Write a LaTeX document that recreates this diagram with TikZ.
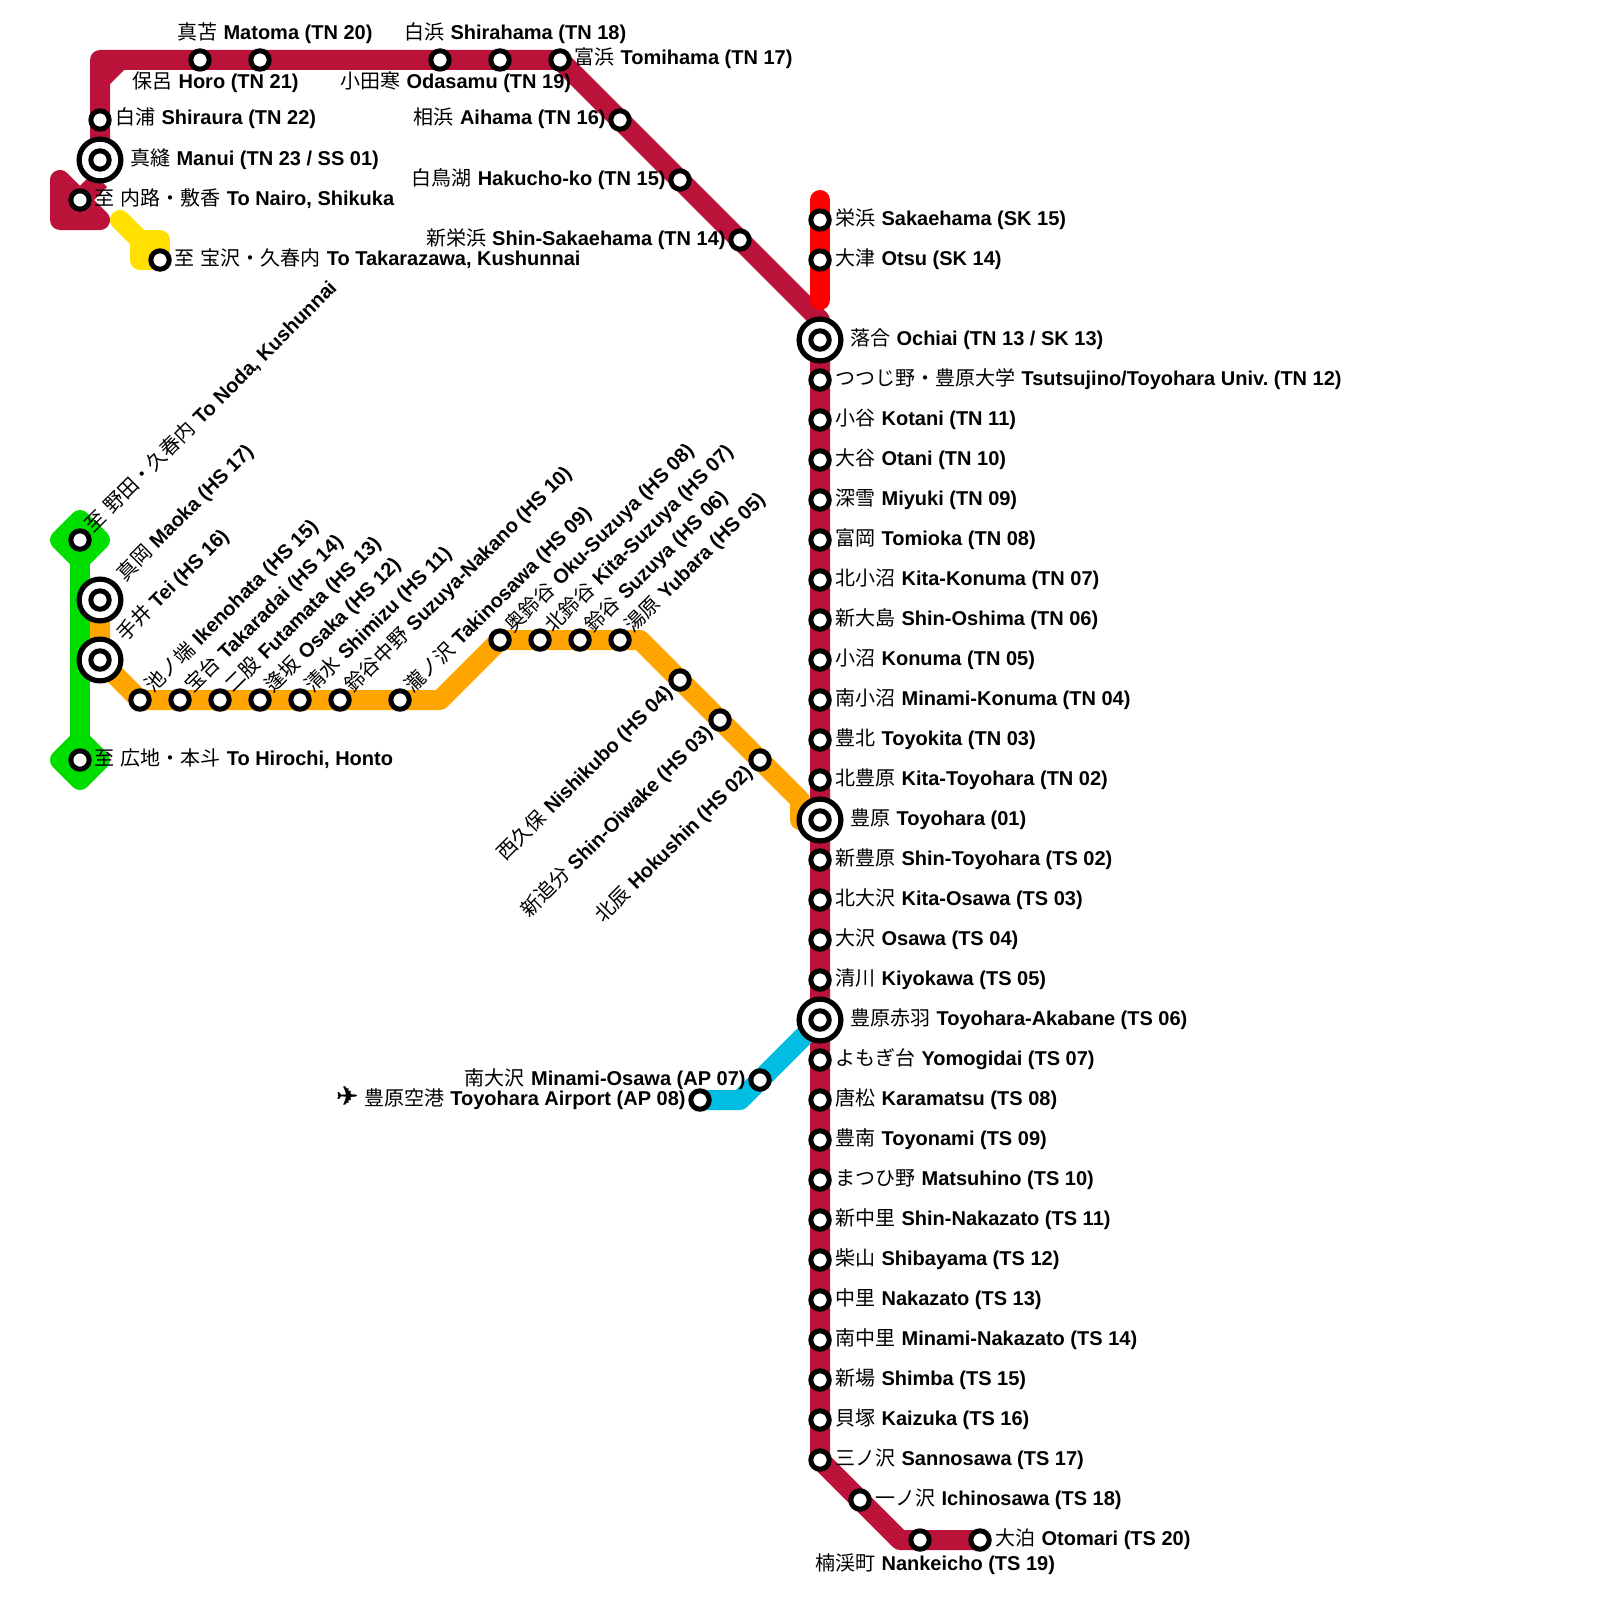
\documentclass[tikz,border=0pt]{standalone}
\usepackage{fontspec}
\setmainfont{Noto Sans CJK JP}[BoldFont={Liberation Sans Bold}, UprightFeatures={WordSpace=1.38}]
\newfontfamily\planefont{DejaVu Sans}[FakeBold=1.5]
\frenchspacing
\usetikzlibrary{positioning, backgrounds}
\definecolor{tncolor}{RGB}{186,18,56}
\definecolor{skcolor}{RGB}{255,0,0}
\definecolor{hscolor}{RGB}{255,165,0}
\definecolor{apcolor}{RGB}{0,190,226}
\definecolor{sscolor}{RGB}{0,222,0}
\definecolor{ttcolor}{RGB}{255,224,0}
\tikzstyle{station} = [
    circle,
    inner sep=0pt,
    minimum size=9.2pt,
    line width=2.5pt,
    draw=black,
    fill=white
]
\tikzstyle{hub} = [
    circle,
    inner sep=0pt,
    minimum size=20.9pt,
    line width=2.6pt,
    draw=black,
    fill=white
]
\tikzstyle{nametext} = [
    inner sep=0pt,
    font=\fontsize{10}{12}\selectfont,
    text height=8pt,
    text depth=3pt
]
\tikzstyle{risetext} = [nametext, anchor=west, rotate=45]
\tikzstyle{falltext} = [nametext, anchor=east, rotate=45]
\tikzstyle{route} = [line width=10pt, line join=round]
\begin{document}
\begin{tikzpicture}[x=0.5pt, y=-0.5pt, node distance=20pt]
\useasboundingbox (0,0) rectangle (1600,1600);

\node (sakaehama) [station] at (820,220) {};
\node (otsu) [station, below of=sakaehama] {};
\node (ochiai) [hub] at (820,340) {};
\node (ochiaicore) [station] at (ochiai) {};
\node (tsutsujino) [station, below of=ochiai] {};
\node (kotani) [station, below of=tsutsujino] {};
\node (otani) [station, below of=kotani] {};
\node (miyuki) [station, below of=otani] {};
\node (tomioka) [station, below of=miyuki] {};
\node (kitakonuma) [station, below of=tomioka] {};
\node (shinoshima) [station, below of=kitakonuma] {};
\node (konuma) [station, below of=shinoshima] {};
\node (minamikonuma) [station, below of=konuma] {};
\node (toyokita) [station, below of=minamikonuma] {};
\node (kitatoyohara) [station, below of=toyokita] {};
\node (toyohara) [hub, below of=kitatoyohara] {};
\node (toyoharacore) [station] at (toyohara) {};
\node (shintoyohara) [station, below of=toyohara] {};
\node (kitaosawa) [station, below of=shintoyohara] {};
\node (osawa) [station, below of=kitaosawa] {};
\node (kiyokawa) [station, below of=osawa] {};
\node (akabane) [hub, below of=kiyokawa] {};
\node (akabanecore) [station] at (akabane) {};
\node (yomogidai) [station, below of=akabane] {};
\node (karamatsu) [station, below of=yomogidai] {};
\node (toyonami) [station, below of=karamatsu] {};
\node (matsuhino) [station, below of=toyonami] {};
\node (shinnakazato) [station, below of=matsuhino] {};
\node (shibayama) [station, below of=shinnakazato] {};
\node (nakazato) [station, below of=shibayama] {};
\node (minaminakazato) [station, below of=nakazato] {};
\node (shimba) [station, below of=minaminakazato] {};
\node (kaizuka) [station, below of=shimba] {};
\node (sannosawa) [station, below of=kaizuka] {};
\node (ichinosawa) [station] at (860,1500) {};
\node (nankeicho) [station] at (920,1540) {};
\node (otomari) [station] at (980,1540) {};

\node (manui) [hub] at (100,160) {};
\node (manuicore) [station] at (manui) {};
\node (shiraura) [station] at (100,120) {};
\node (horo) [station] at (200,60) {};
\node (matoma) [station] at (260,60) {};
\node (odasamu) [station] at (440,60) {};
\node (shirahama) [station] at (500,60) {};
\node (tomihama) [station] at (560,60) {};
\node (aihama) [station] at (620,120) {};
\node (hakucho) [station] at (680,180) {};
\node (shinsakaehama) [station] at (740,240) {};
\node (nairo) [station] at (80,200) {};
\node (takarazawa) [station] at (160,260) {};

\node (noda) [station] at (80,540) {};
\node (hirochi) [station] at (80,760) {};
\node (maoka) [hub] at (100,600) {};
\node (maokacore) [station] at (maoka) {};
\node (tei) [hub] at (100,660) {};
\node (teicore) [station] at (tei) {};
\node (ikenohata) [station] at (140,700) {};
\node (takaradai) [station] at (180,700) {};
\node (futamata) [station] at (220,700) {};
\node (osaka) [station] at (260,700) {};
\node (shimizu) [station] at (300,700) {};
\node (suzuyanakano) [station] at (340,700) {};
\node (takinosawa) [station] at (400,700) {};
\node (okusuzuya) [station] at (500,640) {};
\node (kitasuzuya) [station] at (540,640) {};
\node (suzuya) [station] at (580,640) {};
\node (yubara) [station] at (620,640) {};
\node (nishikubo) [station] at (680,680) {};
\node (shinoiwake) [station] at (720,720) {};
\node (hokushin) [station] at (760,760) {};

\node (minamiosawa) [station] at (760,1080) {};
\node (airport) [station] at (700,1100) {};

\coordinate (tnfoot) at (100,180);
\coordinate (tncorner) at (100,60);
\coordinate (chamferlow) at (100,80);
\coordinate (chamferhigh) at (120,60);
\coordinate (ochiaibend) at (820,320);
\coordinate (tsbend) at (900,1540);
\coordinate (sktop) at (820,200);
\coordinate (skfoot) at (820,300);
\coordinate (hslow) at (440,700);
\coordinate (hshigh) at (640,640);
\coordinate (hsdown) at (800,800);
\coordinate (hsfoot) at (800,820);
\coordinate (apbend) at (740,1100);
\coordinate (ttstart) at (120,220);
\coordinate (ttbend) at (140,240);

\begin{scope}[on background layer]
\draw [route, draw=sscolor] (noda.center) -- (hirochi.center);
\draw [route, draw=sscolor, fill=sscolor] (80,520) -- (100,540) -- (80,560) -- (60,540) -- cycle;
\draw [route, draw=sscolor, fill=sscolor] (80,740) -- (100,760) -- (80,780) -- (60,760) -- cycle;
\draw [route, draw=hscolor] (maoka.center) -- (tei.center) -- (ikenohata.center) -- (hslow) -- (okusuzuya.center) -- (hshigh) -- (hsdown) -- (hsfoot) -- (toyohara.center);
\draw [route, draw=tncolor] (tnfoot) -- (tncorner) -- (tomihama.center) -- (ochiaibend) -- (sannosawa.center) -- (tsbend) -- (otomari.center);
\draw [route, draw=tncolor] (chamferlow) -- (chamferhigh);
\draw [route, draw=tncolor] (tnfoot) -- (nairo.center);
\draw [route, draw=tncolor, fill=tncolor] (60,180) -- (100,220) -- (60,220) -- cycle;
\draw [route, draw=skcolor, line cap=round] (sktop) -- (skfoot);
\draw [route, draw=apcolor] (akabane.center) -- (apbend) -- (airport.center);
\draw [route, draw=ttcolor, line cap=round] (ttstart) -- (ttbend);
\draw [route, draw=ttcolor, fill=ttcolor] (140,240) -- (160,240) -- (160,260) -- (140,260) -- cycle;
\end{scope}

\node (sakaehamatext) [nametext, right=7.5pt of sakaehama.center] {栄浜 \textbf{Sakaehama (SK 15)}};
\node (otsutext) [nametext, right=7.5pt of otsu.center] {大津 \textbf{Otsu (SK 14)}};
\node (ochiaitext) [nametext, right=15pt of ochiai.center] {落合 \textbf{Ochiai (TN 13 / SK 13)}};
\node (tsutsujinotext) [nametext, right=7.5pt of tsutsujino.center] {つつじ野・豊原大学 \textbf{Tsutsujino/Toyohara Univ. (TN 12)}};
\node (kotanitext) [nametext, right=7.5pt of kotani.center] {小谷 \textbf{Kotani (TN 11)}};
\node (otanitext) [nametext, right=7.5pt of otani.center] {大谷 \textbf{Otani (TN 10)}};
\node (miyukitext) [nametext, right=7.5pt of miyuki.center] {深雪 \textbf{Miyuki (TN 09)}};
\node (tomiokatext) [nametext, right=7.5pt of tomioka.center] {富岡 \textbf{Tomioka (TN 08)}};
\node (kitakonumatext) [nametext, right=7.5pt of kitakonuma.center] {北小沼 \textbf{Kita-Konuma (TN 07)}};
\node (shinoshimatext) [nametext, right=7.5pt of shinoshima.center] {新大島 \textbf{Shin-Oshima (TN 06)}};
\node (konumatext) [nametext, right=7.5pt of konuma.center] {小沼 \textbf{Konuma (TN 05)}};
\node (minamikonumatext) [nametext, right=7.5pt of minamikonuma.center] {南小沼 \textbf{Minami-Konuma (TN 04)}};
\node (toyokitatext) [nametext, right=7.5pt of toyokita.center] {豊北 \textbf{Toyokita (TN 03)}};
\node (kitatoyoharatext) [nametext, right=7.5pt of kitatoyohara.center] {北豊原 \textbf{Kita-Toyohara (TN 02)}};
\node (toyoharatext) [nametext, right=15pt of toyohara.center] {豊原 \textbf{Toyohara (01)}};
\node (shintoyoharatext) [nametext, right=7.5pt of shintoyohara.center] {新豊原 \textbf{Shin-Toyohara (TS 02)}};
\node (kitaosawatext) [nametext, right=7.5pt of kitaosawa.center] {北大沢 \textbf{Kita-Osawa (TS 03)}};
\node (osawatext) [nametext, right=7.5pt of osawa.center] {大沢 \textbf{Osawa (TS 04)}};
\node (kiyokawatext) [nametext, right=7.5pt of kiyokawa.center] {清川 \textbf{Kiyokawa (TS 05)}};
\node (akabanetext) [nametext, right=15pt of akabane.center] {豊原赤羽 \textbf{Toyohara-Akabane (TS 06)}};
\node (yomogidaitext) [nametext, right=7.5pt of yomogidai.center] {よもぎ台 \textbf{Yomogidai (TS 07)}};
\node (karamatsutext) [nametext, right=7.5pt of karamatsu.center] {唐松 \textbf{Karamatsu (TS 08)}};
\node (toyonamitext) [nametext, right=7.5pt of toyonami.center] {豊南 \textbf{Toyonami (TS 09)}};
\node (matsuhinotext) [nametext, right=7.5pt of matsuhino.center] {まつひ野 \textbf{Matsuhino (TS 10)}};
\node (shinnakazatotext) [nametext, right=7.5pt of shinnakazato.center] {新中里 \textbf{Shin-Nakazato (TS 11)}};
\node (shibayamatext) [nametext, right=7.5pt of shibayama.center] {柴山 \textbf{Shibayama (TS 12)}};
\node (nakazatotext) [nametext, right=7.5pt of nakazato.center] {中里 \textbf{Nakazato (TS 13)}};
\node (minaminakazatotext) [nametext, right=7.5pt of minaminakazato.center] {南中里 \textbf{Minami-Nakazato (TS 14)}};
\node (shimbatext) [nametext, right=7.5pt of shimba.center] {新場 \textbf{Shimba (TS 15)}};
\node (kaizukatext) [nametext, right=7.5pt of kaizuka.center] {貝塚 \textbf{Kaizuka (TS 16)}};
\node (sannosawatext) [nametext, right=7.5pt of sannosawa.center] {三ノ沢 \textbf{Sannosawa (TS 17)}};
\node (ichinosawatext) [nametext, right=7.5pt of ichinosawa.center] {一ノ沢 \textbf{Ichinosawa (TS 18)}};
\node (otomaritext) [nametext, right=7.5pt of otomari.center] {大泊 \textbf{Otomari (TS 20)}};
\node (nankeichotext) [nametext, anchor=west] at (815,1565) {楠渓町 \textbf{Nankeicho (TS 19)}};

\node (manuitext) [nametext, right=15pt of manui.center] {真縫 \textbf{Manui (TN 23 / SS 01)}};
\node (shirauratext) [nametext, right=7.5pt of shiraura.center] {白浦 \textbf{Shiraura (TN 22)}};
\node (horotext) [nametext, anchor=west] at (132,84) {保呂 \textbf{Horo (TN 21)}};
\node (matomatext) [nametext, anchor=west] at (177,35) {真苫 \textbf{Matoma (TN 20)}};
\node (odasamutext) [nametext, anchor=west] at (340,84) {小田寒 \textbf{Odasamu (TN 19)}};
\node (shirahamatext) [nametext, anchor=west] at (404,35) {白浜 \textbf{Shirahama (TN 18)}};
\node (tomihamatext) [nametext, right=7pt of tomihama.center] {富浜 \textbf{Tomihama (TN 17)}};
\node (aihamatext) [nametext, left=7pt of aihama.center] {相浜 \textbf{Aihama (TN 16)}};
\node (hakuchotext) [nametext, left=7pt of hakucho.center] {白鳥湖 \textbf{Hakucho-ko (TN 15)}};
\node (shinsakaehamatext) [nametext, left=7pt of shinsakaehama.center] {新栄浜 \textbf{Shin-Sakaehama (TN 14)}};
\node (nairotext) [nametext, right=7pt of nairo.center] {至 内路・敷香 \textbf{To Nairo, Shikuka}};
\node (takarazawatext) [nametext, right=7pt of takarazawa.center] {至 宝沢・久春内 \textbf{To Takarazawa, Kushunnai}};

\node (hirochitext) [nametext, right=7pt of hirochi.center] {至 広地・本斗 \textbf{To Hirochi, Honto}};
\node (nodatext) [above right=7pt of noda.center, risetext] {至 野田・久春内 \textbf{To Noda, Kushunnai}};
\node (maokatext) [above right=15pt of maoka.center, risetext] {真岡 \textbf{Maoka (HS 17)}};
\node (teitext) [above right=15pt of tei.center, risetext] {手井 \textbf{Tei (HS 16)}};
\node (ikenohatatext) [above right=7pt of ikenohata.center, risetext] {池ノ端 \textbf{Ikenohata (HS 15)}};
\node (takaradaitext) [above right=7pt of takaradai.center, risetext] {宝台 \textbf{Takaradai (HS 14)}};
\node (futamatatext) [above right=7pt of futamata.center, risetext] {二股 \textbf{Futamata (HS 13)}};
\node (osakatext) [above right=7pt of osaka.center, risetext] {逢坂 \textbf{Osaka (HS 12)}};
\node (shimizutext) [above right=7pt of shimizu.center, risetext] {清水 \textbf{Shimizu (HS 11)}};
\node (suzuyanakanotext) [above right=7pt of suzuyanakano.center, risetext] {鈴谷中野 \textbf{Suzuya-Nakano (HS 10)}};
\node (takinosawatext) [above right=7pt of takinosawa.center, risetext] {瀧ノ沢 \textbf{Takinosawa (HS 09)}};
\node (okusuzuyatext) [above right=7pt of okusuzuya.center, risetext] {奥鈴谷 \textbf{Oku-Suzuya (HS 08)}};
\node (kitasuzuyatext) [above right=7pt of kitasuzuya.center, risetext] {北鈴谷 \textbf{Kita-Suzuya (HS 07)}};
\node (suzuyatext) [above right=7pt of suzuya.center, risetext] {鈴谷 \textbf{Suzuya (HS 06)}};
\node (yubaratext) [above right=7pt of yubara.center, risetext] {湯原 \textbf{Yubara (HS 05)}};
\node (nishikubotext) [below left=7pt of nishikubo.center, falltext] {西久保 \textbf{Nishikubo (HS 04)}};
\node (shinoiwaketext) [below left=7pt of shinoiwake.center, falltext] {新追分 \textbf{Shin-Oiwake (HS 03)}};
\node (hokushintext) [below left=7pt of hokushin.center, falltext] {北辰 \textbf{Hokushin (HS 02)}};

\node (minamiosawatext) [nametext, left=7pt of minamiosawa.center] {南大沢 \textbf{Minami-Osawa (AP 07)}};
\node (airporttext) [nametext, left=7pt of airport.center] {{\planefont\fontsize{13}{12}\selectfont ✈} 豊原空港 \textbf{Toyohara Airport (AP 08)}};

\end{tikzpicture}
\end{document}
